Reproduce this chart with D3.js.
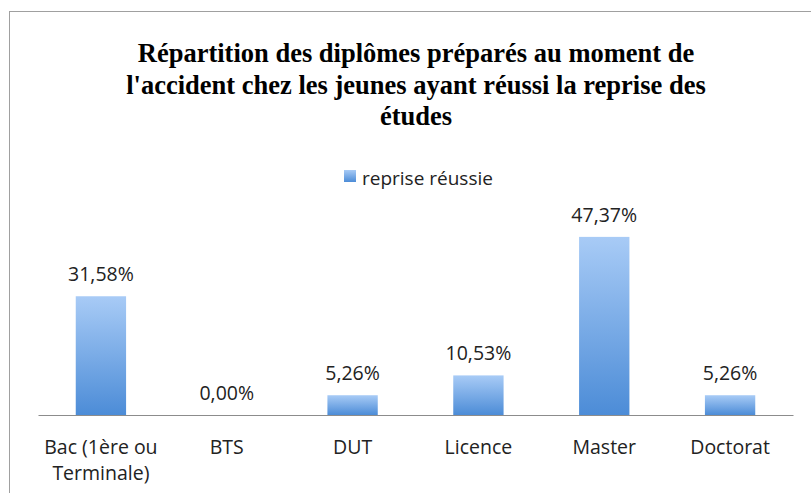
<!DOCTYPE html>
<html>
<head>
<meta charset="utf-8">
<title>reprise</title>
<script src="https://cdn.jsdelivr.net/npm/d3@7"></script>
<style>
  body { margin: 0; background: #fff; }
</style>
</head>
<body>
<script>
// données
var categories = ['Bac (1ère ou Terminale)', 'BTS', 'DUT', 'Licence', 'Master', 'Doctorat'];
var values = [31.58, 0.00, 5.26, 10.53, 47.37, 5.26];
var seriesName = 'reprise réussie';
var titleLines = ['Répartition des diplômes préparés au moment de',
                  "l'accident chez les jeunes ayant réussi la reprise des",
                  'études'];

var width = 811, height = 493;
var labelFont = 'Open Sans, sans-serif';
var svg = d3.select('body').append('svg')
    .attr('width', width)
    .attr('height', height);

// dégradé des barres
var grad = svg.append('defs').append('linearGradient')
    .attr('id', 'barGrad')
    .attr('x1', 0).attr('y1', 0).attr('x2', 0).attr('y2', 1);
grad.append('stop').attr('offset', '0%').attr('stop-color', '#a8cbf6');
grad.append('stop').attr('offset', '100%').attr('stop-color', '#4c8cd7');

// cadre
svg.append('rect')
    .attr('x', 9.5).attr('y', 11.5)
    .attr('width', 830).attr('height', 520)
    .attr('fill', 'none')
    .attr('stroke', '#a0a0a0')
    .attr('stroke-width', 1);

// titre
svg.append('text')
    .attr('text-anchor', 'middle')
    .attr('font-family', 'Liberation Serif, Times New Roman, serif')
    .attr('font-weight', 'bold')
    .attr('font-size', '26.5px')
    .attr('fill', '#000')
    .selectAll('tspan')
    .data(titleLines)
    .enter().append('tspan')
    .attr('x', 416)
    .attr('y', function(d, i) { return 62 + i * 31.5; })
    .text(function(d) { return d; });

// légende
svg.append('rect')
    .attr('x', 344).attr('y', 170)
    .attr('width', 12).attr('height', 12)
    .attr('fill', 'url(#barGrad)');
svg.append('text')
    .attr('x', 362).attr('y', 185)
    .attr('font-family', labelFont)
    .attr('font-size', '19px')
    .attr('fill', '#222')
    .text(seriesName);

// échelles
var x = d3.scaleBand()
    .domain(categories)
    .range([38, 793])
    .paddingInner(0.6)
    .paddingOuter(0.3);

var y = d3.scaleLinear()
    .domain([0, 50])
    .range([415, 227]);

// barres
svg.selectAll('.bar')
    .data(values)
    .enter().append('rect')
    .attr('class', 'bar')
    .attr('x', function(d, i) { return x(categories[i]); })
    .attr('y', function(d) { return y(d); })
    .attr('width', x.bandwidth())
    .attr('height', function(d) { return y(0) - y(d); })
    .attr('fill', 'url(#barGrad)');

// axe
var axis = svg.append('g')
    .attr('transform', 'translate(0,' + y(0) + ')')
    .call(d3.axisBottom(x).tickSize(0).tickFormat(''));
axis.select('.domain').attr('stroke', '#8c8c8c').attr('stroke-width', 1.2);

// étiquettes des valeurs
svg.selectAll('.val')
    .data(values)
    .enter().append('text')
    .attr('class', 'val')
    .attr('x', function(d, i) { return x(categories[i]) + x.bandwidth() / 2; })
    .attr('y', function(d) { return y(d) - 15; })
    .attr('text-anchor', 'middle')
    .attr('font-family', labelFont)
    .attr('font-size', '19.5px')
    .attr('fill', '#222')
    .text(function(d) { return d.toFixed(2).replace('.', ',') + '%'; });

// étiquettes des catégories
var catLines = function(c) {
    return c === 'Bac (1ère ou Terminale)' ? ['Bac (1ère ou', 'Terminale)'] : [c];
};
svg.selectAll('.cat')
    .data(categories)
    .enter().append('text')
    .attr('class', 'cat')
    .attr('text-anchor', 'middle')
    .attr('font-family', labelFont)
    .attr('font-size', '19.5px')
    .attr('fill', '#222')
    .each(function(c) {
        var t = d3.select(this);
        catLines(c).forEach(function(line, j) {
            t.append('tspan')
                .attr('x', x(c) + x.bandwidth() / 2)
                .attr('y', 454 + j * 26)
                .text(line);
        });
    });
</script>
</body>
</html>
